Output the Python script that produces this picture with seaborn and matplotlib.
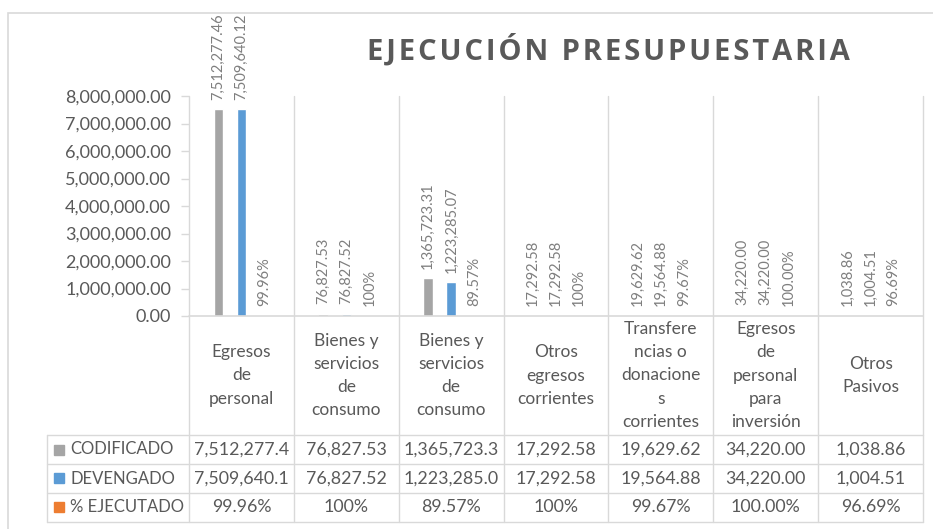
import numpy as np
import pandas as pd
import seaborn as sns
import matplotlib.pyplot as plt
from matplotlib.patches import Rectangle


categorias = ["Egresos\nde\npersonal",
              "Bienes y\nservicios\nde\nconsumo",
              "Bienes y\nservicios\nde\nconsumo",
              "Otros\negresos\ncorrientes",
              "Transfere\nncias o\ndonacione\ns\ncorrientes",
              "Egresos\nde\npersonal\npara\ninversión",
              "Otros\nPasivos"]
codificado = [7512277.46, 76827.53, 1365723.31, 17292.58, 19629.62, 34220.00, 1038.86]
devengado = [7509640.12, 76827.52, 1223285.07, 17292.58, 19564.88, 34220.00, 1004.51]
ejecutado = [0.9996, 1.0, 0.8957, 1.0, 0.9967, 1.0, 0.9669]
ejecutado_labels = ["99.96%", "100%", "89.57%", "100%", "99.67%", "100.00%", "96.69%"]
series = ["CODIFICADO", "DEVENGADO", "% EJECUTADO"]
colores = ["#A5A5A5", "#5B9BD5", "#ED7D31"]
titulo = "EJECUCIÓN PRESUPUESTARIA"

n = len(categorias)
data = pd.DataFrame({
    "pos": list(range(n)) * 3,
    "serie": [series[0]] * n + [series[1]] * n + [series[2]] * n,
    "valor": codificado + devengado + ejecutado,
})

sns.set_style("white")
plt.rcParams['font.family'] = ['Lato', 'DejaVu Sans']

gris_txt = "#595959"
gris_lin = "#D9D9D9"

W, H = 933, 529
fig = plt.figure(figsize=(W / 100, H / 100), dpi=100)
# plot area in pixels: x 189..923, y 96..316
ax = fig.add_axes([189 / W, 1 - 316 / H, 734 / W, 220 / H])

sns.barplot(data=data, x="pos", y="valor", hue="serie", hue_order=series,
            palette=colores, saturation=1, width=0.66, gap=0.59,
            legend=False, ax=ax)

etiquetas = [[f"{v:,.2f}" for v in codificado],
             [f"{v:,.2f}" for v in devengado],
             ejecutado_labels]
for cont, labs in zip(ax.containers, etiquetas):
    ax.bar_label(cont, labels=labs, rotation=90, padding=7,
                 fontsize=10.5, color="#7F7F7F")

ax.set_xlim(-0.5, n - 0.5)
ax.set_ylim(0, 8000000)
ax.set_yticks(np.arange(0, 8000001, 1000000))
ax.set_yticklabels([f"{v:,.2f}" for v in np.arange(0, 8000001, 1000000)])
ax.set_xticks([])
ax.set_xlabel("")
ax.set_ylabel("")
ax.tick_params(axis="y", length=6, width=1, color=gris_lin, labelcolor=gris_txt,
               labelsize=13, pad=7, left=True)
for s in ax.spines.values():
    s.set_visible(False)

# table below the plot (heights in axes fraction)
ax_h = 220
hdr = 119 / ax_h
row = 29 / ax_h
y_hdr_bot = -hdr
y_rows = [y_hdr_bot - row * i for i in range(4)]
y_bot = y_rows[-1]
col_w = 734 / n
x_left = -0.5 - (189 - 47) / col_w

tr = ax.get_xaxis_transform()
for b in np.arange(-0.5, n, 1):
    ax.plot([b, b], [y_bot, 1], color=gris_lin, lw=1, transform=tr, clip_on=False)
ax.plot([-0.5, n - 0.5], [0, 0], color=gris_lin, lw=1.2, transform=tr, clip_on=False)
for yy in y_rows:
    ax.plot([x_left, n - 0.5], [yy, yy], color=gris_lin, lw=1, transform=tr, clip_on=False)
ax.plot([x_left, x_left], [y_hdr_bot, y_bot], color=gris_lin, lw=1, transform=tr, clip_on=False)

for i, cat in enumerate(categorias):
    ax.text(i, -hdr / 2, cat, transform=tr, ha="center", va="center",
            multialignment="center", linespacing=1.55, fontsize=12.5, color=gris_txt)

valores_tabla = [[f"{v:,.2f}"[:11] for v in codificado],
                 [f"{v:,.2f}"[:11] for v in devengado],
                 ejecutado_labels]
for r, (nombre, col, vals) in enumerate(zip(series, colores, valores_tabla)):
    yc = y_hdr_bot - row * (r + 0.5)
    ax.plot([x_left + 11.5 / col_w], [yc], marker="s", ms=7, color=col,
            transform=tr, clip_on=False, linestyle="none")
    ax.text(x_left + 23 / col_w, yc, nombre, transform=tr, ha="left", va="center",
            fontsize=12, color=gris_txt)
    for i, v in enumerate(vals):
        ax.text(i, yc, v, transform=tr, ha="center", va="center",
                fontsize=12.8, color=gris_txt)

# letter-spaced title
fig.text(608 / W, 1 - 50 / H, "\u200a".join(titulo), ha="center", va="center",
         fontsize=21, fontweight="bold", family=["Open Sans", "DejaVu Sans"], color=gris_txt)

fig.add_artist(Rectangle((8 / W, -0.1), 1.2, 1.1 - 13 / H, transform=fig.transFigure,
                         fill=False, edgecolor=gris_lin, lw=1.2))

fig.savefig("out.png", dpi=100)
